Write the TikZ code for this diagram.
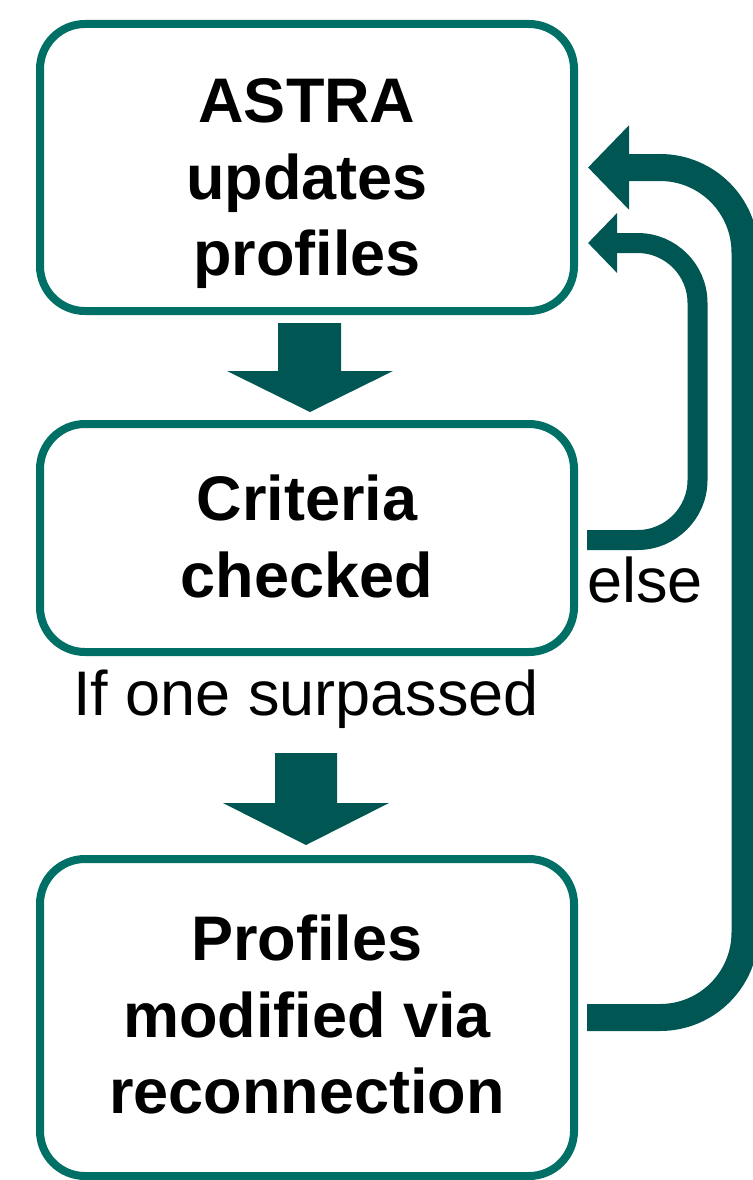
\documentclass[tikz,border=0pt]{standalone}
\usepackage{fontspec}
\setmainfont{Liberation Sans}
\usetikzlibrary{arrows.meta,calc}
\definecolor{boxc}{RGB}{0,112,103}
\definecolor{arrc}{RGB}{0,86,82}
\begin{document}
\begin{tikzpicture}[x=1pt,y=-1pt,
  box/.style={draw=boxc,line width=8pt,rounded corners=45pt,minimum width=534pt,inner sep=0pt,outer sep=0pt},
  lbl/.style={font=\fontsize{63}{76}\selectfont\bfseries,anchor=base,inner sep=0pt},
  plaintext/.style={font=\fontsize{63}{76}\selectfont,anchor=base,inner sep=0pt},
  blockarrow/.style={fill=arrc},
  bigloop/.style={draw=arrc,line width=27pt,rounded corners=85pt,-{Triangle[length=41pt,width=82pt]}},
  smallloop/.style={draw=arrc,line width=20pt,rounded corners=60pt,-{Triangle[length=29pt,width=58pt]}}]
\useasboundingbox (0,0) rectangle (752,1180);

% boxes
\node[box,minimum height=287pt] (b1) at (307,167.5) {};
\node[box,minimum height=228pt] (b2) at (307,538) {};
\node[box,minimum height=317pt] (b3) at (307,1017.5) {};

% block arrows
\fill[blockarrow] (278,323) -- (341,323) -- (341,371) -- (393,371) -- (310,412) -- (227,371) -- (278,371) -- cycle;
\fill[blockarrow] (275,753) -- (337,753) -- (337,803) -- (389,803) -- (306,845) -- (223,803) -- (275,803) -- cycle;

% loops
\draw[bigloop] ($(b3.east)+(13,0)$) -- (745,1017.5) -- (745,167.5) -- ($(b1.east)+(14,0)$);
\draw[smallloop] ($(b2.east)+(13,2)$) -- (697.5,540) -- (697.5,243) -- ($(b1.east)+(14,75.5)$);

% texts
\node[lbl] (t1a) at (307,123) {ASTRA};
\node[lbl] (t1b) at (307,199) {updates};
\node[lbl] (t1c) at (307,275) {profiles};
\node[lbl] (t2a) at (307,520) {Criteria};
\node[lbl] (t2b) at (307,597) {checked};
\node[lbl] (t3a) at (307,960) {Profiles};
\node[lbl] (t3b) at (307,1037) {modified via};
\node[lbl] (t3c) at (307,1113) {reconnection};
\node[plaintext] (c1) at (306,715) {If one surpassed};
\node[plaintext,anchor=base west] (c2) at (587,602) {else};
\end{tikzpicture}
\end{document}
